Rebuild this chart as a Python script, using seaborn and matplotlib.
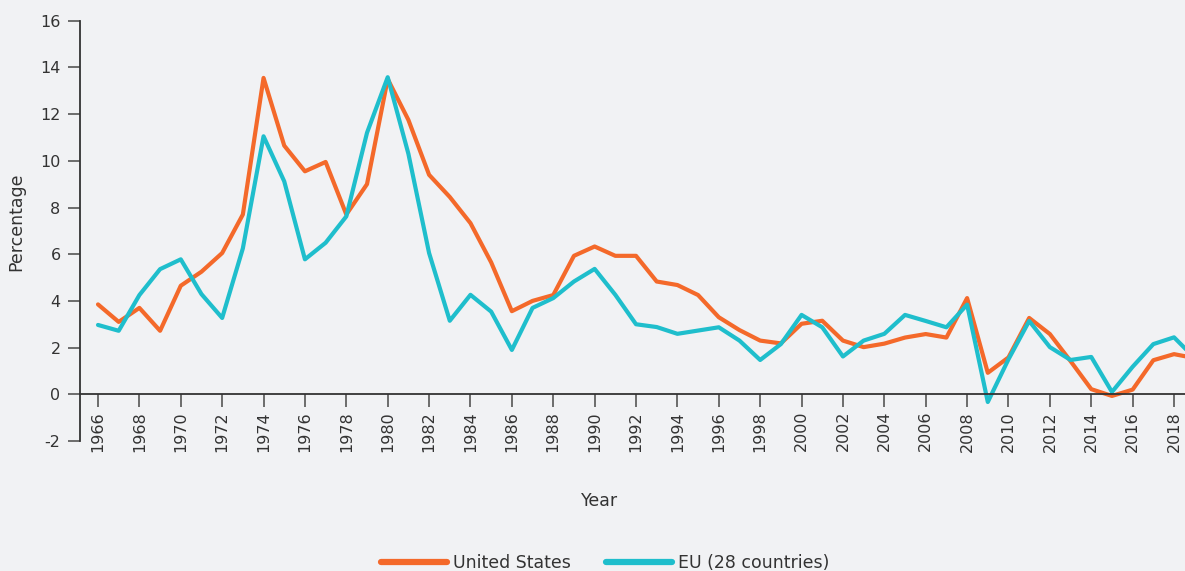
import pandas as pd
import matplotlib.pyplot as plt
import seaborn as sns

# values
years = list(range(1966, 2020))
us = [3.85, 3.1, 3.7, 2.72, 4.65, 5.25, 6.05, 7.7, 13.55, 10.65,
      9.55, 9.95, 7.7, 9.0, 13.5, 11.75, 9.4, 8.45, 7.33, 5.65,
      3.56, 4.0, 4.25, 5.93, 6.33, 5.93, 5.93, 4.83, 4.68, 4.25,
      3.3, 2.75, 2.3, 2.18, 3.02, 3.15, 2.3, 2.02, 2.17, 2.43,
      2.58, 2.43, 4.12, 0.92, 1.58, 3.27, 2.58, 1.42, 0.22, -0.07,
      0.2, 1.46, 1.72, 1.55]
eu = [2.97, 2.72, 4.25, 5.36, 5.78, 4.29, 3.27, 6.25, 11.05, 9.12,
      5.78, 6.49, 7.62, 11.2, 13.58, 10.3, 6.05, 3.15, 4.26, 3.54,
      1.9, 3.7, 4.12, 4.83, 5.37, 4.26, 3.0, 2.88, 2.59, 2.73,
      2.87, 2.3, 1.47, 2.15, 3.4, 2.87, 1.62, 2.3, 2.59, 3.4,
      3.14, 2.87, 3.84, -0.33, 1.5, 3.14, 2.02, 1.47, 1.6, 0.1,
      1.18, 2.15, 2.44, 1.55]
series_names = ['United States', 'EU (28 countries)']
colors = ['#f4692a', '#1fbecc']
bg = '#f1f2f4'
txt = '#333333'

df = pd.DataFrame({'Year': years * 2,
                   'Percentage': us + eu,
                   'Series': [series_names[0]] * len(years) + [series_names[1]] * len(years)})

sns.set_style('white')
plt.rcParams['font.family'] = ['DejaVu Sans']
plt.rcParams['axes.unicode_minus'] = False

fig = plt.figure(figsize=(11.85, 5.71), dpi=100, facecolor=bg)
ax = fig.add_axes([80 / 1185, 1 - 441 / 571, 1105 / 1185, (441 - 20.7) / 571])
ax.set_facecolor(bg)

sns.lineplot(data=df, x='Year', y='Percentage', hue='Series', hue_order=series_names,
             palette=colors, linewidth=3.0, ax=ax, legend=False)

ax.set_xlim(1965.13, 2018.53)
ax.set_ylim(-2, 16)
ax.set_xticks(range(1966, 2019, 2))
ax.set_yticks(range(-2, 17, 2))
ax.tick_params(axis='both', bottom=True, left=True, colors='#555555', labelcolor=txt,
               labelsize=11.5, length=9, width=1.2, direction='out')
ax.tick_params(axis='x', pad=3, labelrotation=90)
ax.tick_params(axis='y', pad=5)

for s in ['top', 'right']:
    ax.spines[s].set_visible(False)
ax.spines['bottom'].set_position(('data', 0))
for s in ['left', 'bottom']:
    ax.spines[s].set_color('#333333')
    ax.spines[s].set_linewidth(1.3)
ax.set_xlabel('')
ax.set_ylabel('')

fig.text(600 / 1185, 1 - 501 / 571, 'Year', ha='center', va='center', fontsize=12.5, color=txt)
fig.text(16 / 1185, 1 - 222 / 571, 'Percentage', ha='center', va='center', rotation=90,
         fontsize=12.5, color=txt)

handles = [plt.Line2D([], [], color=c, lw=4.5, solid_capstyle='round') for c in colors]
fig.legend(handles, series_names, loc='center', bbox_to_anchor=(605 / 1185, 1 - 563 / 571),
           ncol=2, frameon=False, fontsize=12.5, labelcolor=txt, handlelength=3.8,
           handletextpad=0.35, columnspacing=2.0)

fig.savefig('out.png', dpi=100, facecolor=bg)
